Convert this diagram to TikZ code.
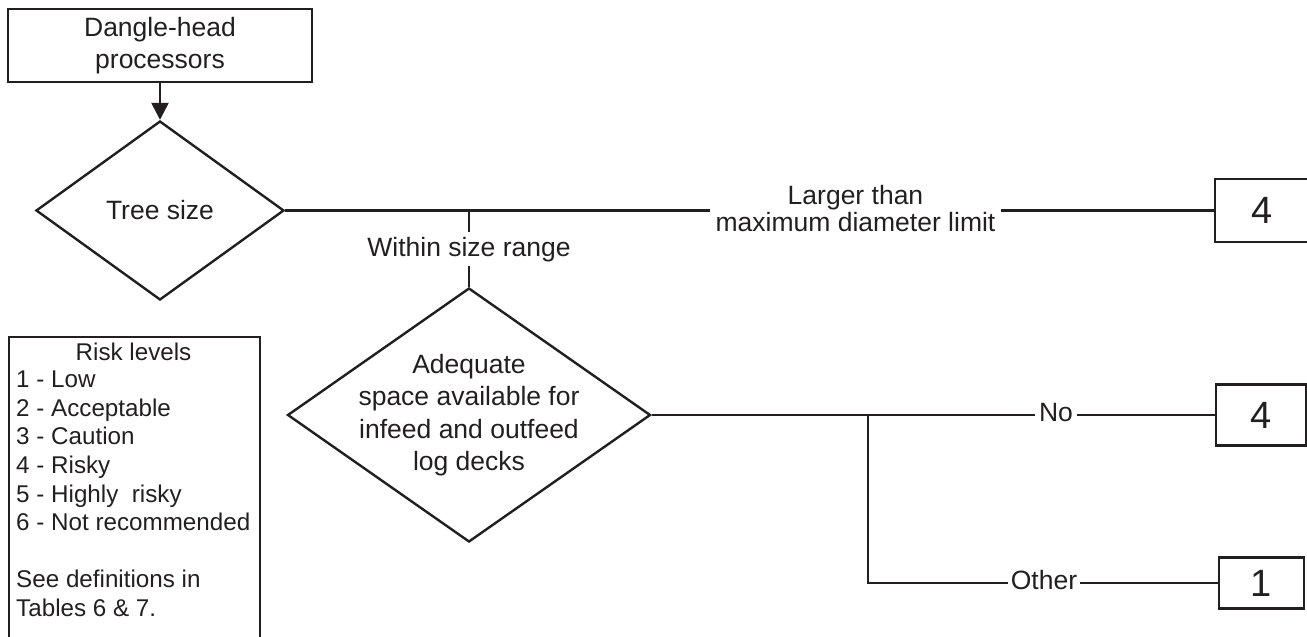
\documentclass[tikz,border=0pt]{standalone}
\usepackage{fontspec}
\setmainfont{Liberation Sans}
\usetikzlibrary{shapes.geometric,arrows.meta}
\definecolor{ink}{RGB}{35,31,32}
\begin{document}
\begin{tikzpicture}[x=1pt,y=-1pt,color=ink,line width=2.5pt,
  main/.style={font=\fontsize{26.5}{32.3}\selectfont},
  legf/.style={font=\fontsize{24.2}{28.6}\selectfont},
  box/.style={draw,rectangle,inner sep=0pt,line width=2.4pt},
  dia/.style={draw,diamond,inner sep=0pt,line width=2.4pt},
  num/.style={box,font=\fontsize{38}{40}\selectfont},
  brk/.style={main,inner ysep=0pt}]
\useasboundingbox (0,0) rectangle (1307,637);
% nodes
\node[box,main,align=center,minimum width=304pt,minimum height=73pt] (top) at (160,45.5) {Dangle-head\\processors};
\node[dia,minimum width=248pt,minimum height=179pt,label={[main]center:Tree size}] (d1) at (160,210.5) {};
\node[num,minimum width=95pt,minimum height=63pt] (b4a) at (1262.5,210.5) {4};
\node[dia,minimum width=363pt,minimum height=254pt,label={[main,align=center]center:Adequate\\space available for\\infeed and outfeed\\log decks}] (d2) at (469,415) {};
\node[num,minimum width=90pt,minimum height=61pt] (b4b) at (1261,415) {4};
\node[num,minimum width=85pt,minimum height=51pt] (b1) at (1261.5,583) {1};
% connector labels
\node[brk,align=center,font=\fontsize{26.5}{26.7}\selectfont,inner xsep=4pt] (lg) at (855.5,208.7) {Larger than\\maximum diameter limit};
\node[main,inner xsep=2pt,inner ysep=3.5pt] (wsr) at (469,249.2) {Within size range};
\node[brk,inner xsep=2.5pt] (no) at (1056,413) {No};
\node[brk,inner xsep=2pt] (other) at (1044,580) {Other};
% junctions
\coordinate (j1) at (d2.north |- d1.east);
\coordinate (j2) at (868,415);
% connectors
\draw[-{Triangle[width=17pt,length=17pt]}] (top.south) -- (d1.north);
\draw (d1.east) -- (lg.west |- d1.east);
\draw (lg.east |- d1.east) -- (b4a.west);
\draw (j1) -- (wsr.north);
\draw (wsr.south) -- (d2.north);
\draw (d2.east) -- (no.west |- d2.east);
\draw (no.east |- d2.east) -- (b4b.west);
\draw (j2) |- (other.west |- b1.west);
\draw (other.east |- b1.west) -- (b1.west);
% legend
\node[draw,rectangle,line width=1.6pt,inner sep=0pt,minimum width=251pt,minimum height=310pt,anchor=north west] (legend) at (8,336) {};
\node[legf] (legt) at (133.5,352) {Risk levels};
\node[legf,align=left,anchor=north west,inner sep=0pt] (legl) at (15,369.7) {1 - Low\\2 - Acceptable\\3 - Caution\\4 - Risky\\5 - Highly~ risky\\6 - Not recommended\\[28.6pt]See definitions in\\Tables 6 \& 7.};
\end{tikzpicture}
\end{document}
